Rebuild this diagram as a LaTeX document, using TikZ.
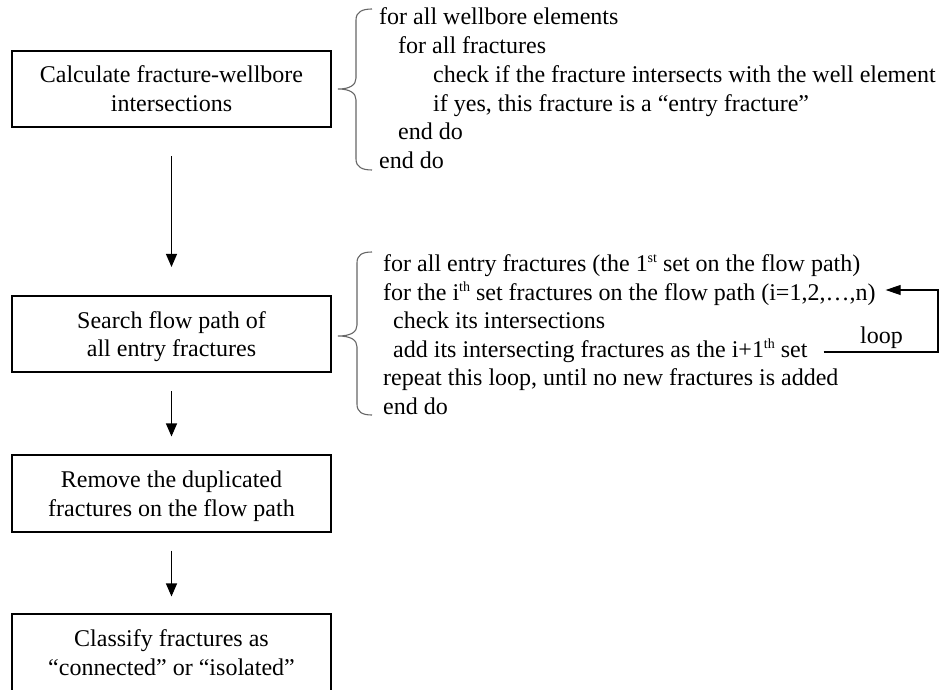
\documentclass[tikz,border=0pt]{standalone}
\usepackage{fontspec}
\setmainfont{Liberation Serif}
\usetikzlibrary{arrows.meta}

% body text and small raised superscripts
\newcommand\bodyfont{\fontsize{24pt}{28.6pt}\selectfont}
\newcommand\sups[1]{\raisebox{9pt}{\fontsize{14pt}{14pt}\selectfont #1}}
% struts that keep the two lines of a box at the same height in every box
\newcommand\topstrut{\rule{0pt}{22.6pt}}
\newcommand\botstrut{\rule[-6pt]{0pt}{6pt}}

\begin{document}
\begin{tikzpicture}[x=1pt, y=-1pt,
  stepbox/.style={draw, line width=1.6pt, minimum width=319pt, minimum height=76.5pt,
                  inner sep=0pt, align=center, font=\bodyfont},
  codeline/.style={anchor=base west, inner sep=0pt, font=\bodyfont},
  flow/.style={line width=1.1pt, -{Triangle[length=13pt,width=11pt]}},
  loopflow/.style={line width=1.1pt, -{Triangle[length=15pt,width=10pt]}},
  bracket/.style={draw=black!60, line width=1.1pt}]

\path[use as bounding box] (0,0) rectangle (943,690);

% main chain of steps
\node[stepbox] (b1) at (171.5,89)
  {\topstrut Calculate fracture-wellbore\\ intersections\botstrut};
\node[stepbox] (b2) at (171.5,334)
  {\topstrut Search flow path of\\ all entry fractures\botstrut};
\node[stepbox] (b3) at (171.5,493.5)
  {\topstrut Remove the duplicated\\ fractures on the flow path\botstrut};
\node[stepbox] (b4) at (171.5,652.5)
  {\topstrut Classify fractures as\\ “connected” or “isolated”\botstrut};

\draw[flow, shorten <=28pt, shorten >=28pt] (b1) -- (b2);
\draw[flow, shorten <=18pt, shorten >=18pt] (b2) -- (b3);
\draw[flow, shorten <=18pt, shorten >=17pt] (b3) -- (b4);

% pseudo-code of the first step
\draw[bracket] (372,9) .. controls (362,9) and (356,12) .. (356,20) -- (356,78)
  .. controls (356,85) and (350,89) .. (338,89)
  .. controls (350,89) and (356,93) .. (356,100) -- (356,159)
  .. controls (356,167) and (362,170) .. (372,170);
\node[codeline] (a1) at (379,25)  {for all wellbore elements};
\node[codeline] (a2) at (398,54)  {for all fractures};
\node[codeline] (a3) at (433,83)  {check if the fracture intersects with the well element};
\node[codeline] (a4) at (433,112) {if yes, this fracture is a “entry fracture”};
\node[codeline] (a5) at (398,140) {end do};
\node[codeline] (a6) at (379,168) {end do};

% pseudo-code of the search step
\draw[bracket] (372,252) .. controls (362,252) and (357,255) .. (357,263) -- (357,325)
  .. controls (357,332) and (351,336) .. (338,336)
  .. controls (351,336) and (357,340) .. (357,347) -- (357,404)
  .. controls (357,412) and (362,415) .. (372,415);
\node[codeline] (c1) at (383,271) {for all entry fractures (the 1\sups{st} set on the flow path)};
\node[codeline] (c2) at (383,300) {for the i\sups{th} set fractures on the flow path (i=1,2,…,n)};
\node[codeline] (c3) at (393,328) {check its intersections};
\node[codeline] (c4) at (393,357) {add its intersecting fractures as the i+1\sups{th} set};
\node[codeline] (c5) at (383,385) {repeat this loop, until no new fractures is added};
\node[codeline] (c6) at (383,414) {end do};

% loop back from the new set to the next pass
\coordinate (loopS) at ([shift={(16,-5)}]c4.base east);
\coordinate (loopE) at ([shift={(10,-10)}]c2.base east);
\coordinate (loopC) at (938,290);
\draw[loopflow] (loopS) -| (loopC) -- (loopE);
\node[codeline] (loop) at (860,343) {loop};

\end{tikzpicture}
\end{document}
